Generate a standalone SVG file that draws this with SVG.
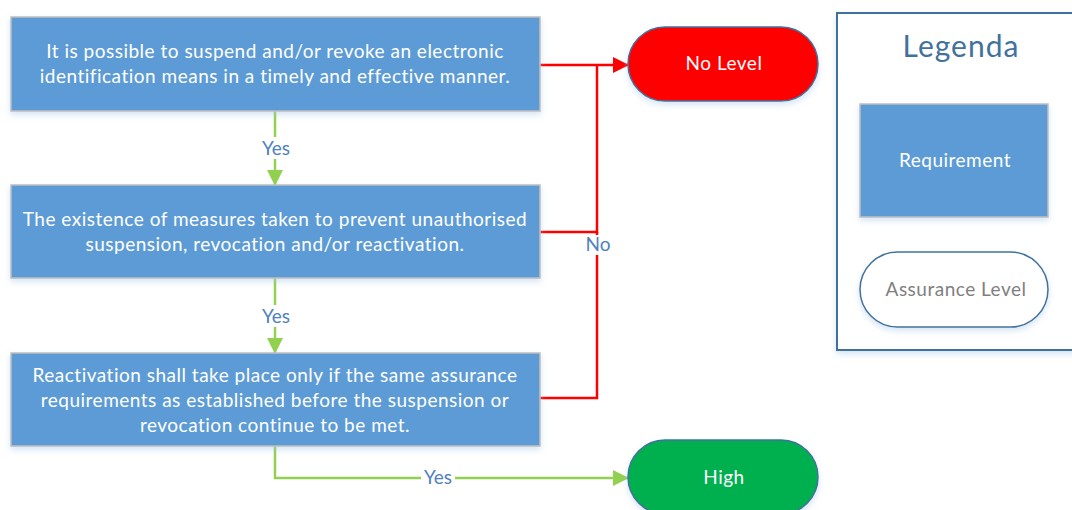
<svg xmlns="http://www.w3.org/2000/svg" width="1072" height="510" viewBox="0 0 1072 510">
  <style>
    text { font-family: Lato, "Open Sans", "Liberation Sans", sans-serif; letter-spacing: 0.5px; }
    .req { fill: #5B9BD5; stroke: #BFBFBF; stroke-width: 1.5; }
    .req-t { fill: #FFFFFF; font-size: 19px; text-anchor: middle; }
    .pill { stroke: #41719C; stroke-width: 1.5; }
    .pill-t { fill: #FFFFFF; font-size: 19px; text-anchor: middle; }
    .no { fill: none; stroke: #FF0000; stroke-width: 2.5; }
    .yes { fill: none; stroke: #92D050; stroke-width: 2.5; }
    .lbl { fill: #4F81BD; font-size: 19px; text-anchor: middle; letter-spacing: 0; }
    .lbl-bg { fill: #FFFFFF; }
  </style>
  <defs>
    <filter id="shadow" x="-10%" y="-20%" width="120%" height="150%">
      <feGaussianBlur in="SourceAlpha" stdDeviation="3"/>
      <feOffset dx="0" dy="3" result="b"/>
      <feFlood flood-color="#9DC3E6" flood-opacity="0.45"/>
      <feComposite in2="b" operator="in"/>
      <feMerge><feMergeNode/><feMergeNode in="SourceGraphic"/></feMerge>
    </filter>
    <marker id="arrow-red" markerWidth="16" markerHeight="16" refX="15" refY="8" orient="auto" markerUnits="userSpaceOnUse">
      <path d="M0,0 L16,8 L0,16 Z" fill="#FF0000"/>
    </marker>
    <marker id="arrow-green" markerWidth="16" markerHeight="16" refX="15" refY="8" orient="auto" markerUnits="userSpaceOnUse">
      <path d="M0,0 L16,8 L0,16 Z" fill="#92D050"/>
    </marker>
  </defs>

  <rect width="1072" height="510" fill="#FFFFFF"/>

  <!-- connectors -->
  <g id="connectors">
    <path class="yes" d="M275,111 V185" marker-end="url(#arrow-green)"/>
    <path class="yes" d="M275,278 V353" marker-end="url(#arrow-green)"/>
    <path class="yes" d="M275,446 V478 H628" marker-end="url(#arrow-green)"/>
    <path class="no" d="M540,65 H628" marker-end="url(#arrow-red)"/>
    <path class="no" d="M540,232 H597 V65"/>
    <path class="no" d="M540,398 H597 V232"/>

    <rect class="lbl-bg" x="258" y="137" width="34" height="22"/>
    <text class="lbl" x="276" y="155">Yes</text>
    <rect class="lbl-bg" x="258" y="305" width="34" height="22"/>
    <text class="lbl" x="276" y="323">Yes</text>
    <rect class="lbl-bg" x="421" y="467" width="34" height="22"/>
    <text class="lbl" x="438" y="484">Yes</text>
    <rect class="lbl-bg" x="584" y="235" width="28" height="20"/>
    <text class="lbl" x="598" y="251">No</text>
  </g>

  <!-- requirement 1 -->
  <g id="req-suspend">
    <rect class="req" x="11" y="17" width="529" height="94" filter="url(#shadow)"/>
    <text class="req-t" x="275" y="58">It is possible to suspend and/or revoke an electronic</text>
    <text class="req-t" x="275" y="83">identification means in a timely and effective manner.</text>
  </g>

  <!-- requirement 2 -->
  <g id="req-prevent">
    <rect class="req" x="11" y="185" width="529" height="93" filter="url(#shadow)"/>
    <text class="req-t" x="275" y="226">The existence of measures taken to prevent unauthorised</text>
    <text class="req-t" x="275" y="251">suspension, revocation and/or reactivation.</text>
  </g>

  <!-- requirement 3 -->
  <g id="req-reactivate">
    <rect class="req" x="11" y="353" width="529" height="93" filter="url(#shadow)"/>
    <text class="req-t" x="275" y="382">Reactivation shall take place only if the same assurance</text>
    <text class="req-t" x="275" y="407">requirements as established before the suspension or</text>
    <text class="req-t" x="275" y="432">revocation continue to be met.</text>
  </g>

  <!-- outcome: no level -->
  <g id="level-none">
    <rect class="pill" x="628" y="27" width="190" height="74" rx="37" fill="#FF0000" filter="url(#shadow)"/>
    <text class="pill-t" x="724" y="70">No Level</text>
  </g>

  <!-- outcome: high -->
  <g id="level-high">
    <rect class="pill" x="628" y="440" width="190" height="74" rx="37" fill="#00B050" filter="url(#shadow)"/>
    <text class="pill-t" x="724" y="484">High</text>
  </g>

  <!-- legend -->
  <g id="legend">
    <rect x="837" y="13" width="240" height="337" fill="#FFFFFF" stroke="#41719C" stroke-width="2" filter="url(#shadow)"/>
    <text x="961" y="57" font-size="30" fill="#41719C" text-anchor="middle" style="letter-spacing:1px">Legenda</text>
    <g id="legend-requirement">
      <rect class="req" x="860" y="104" width="188" height="113" filter="url(#shadow)"/>
      <text class="req-t" x="955" y="167">Requirement</text>
    </g>
    <g id="legend-level">
      <rect class="pill" x="860" y="252" width="188" height="75" rx="37.5" fill="#FFFFFF" filter="url(#shadow)"/>
      <text x="956" y="296" font-size="19" fill="#7F7F7F" text-anchor="middle">Assurance Level</text>
    </g>
  </g>
</svg>
